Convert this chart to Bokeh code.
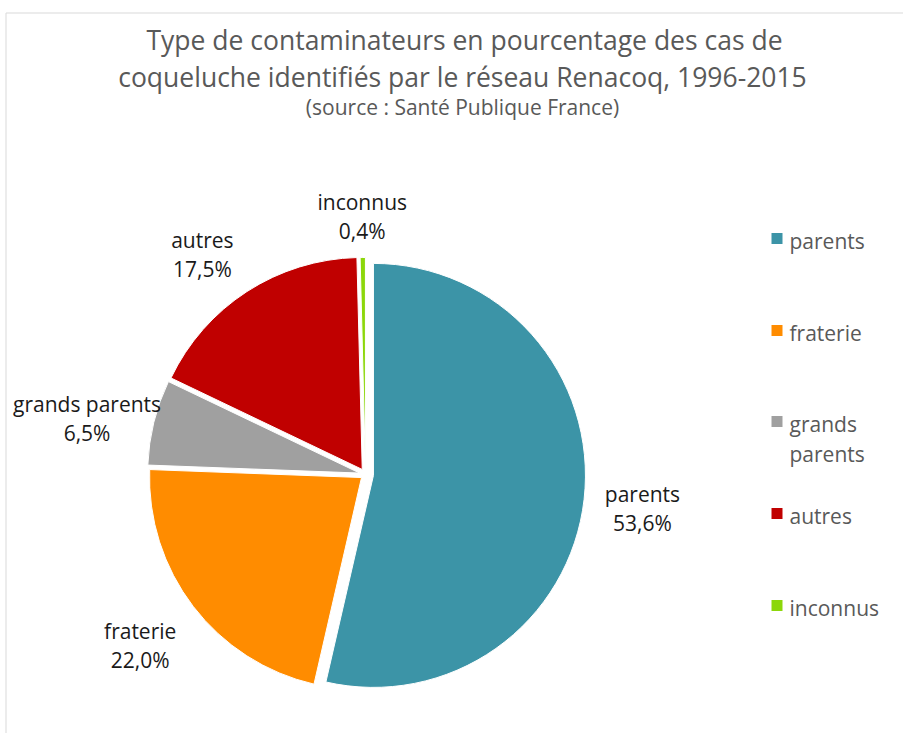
import math
from bokeh.plotting import figure
from bokeh.models import Range1d, ColumnDataSource
from bokeh.core.properties import value
from bokeh.embed import file_html
from bokeh.resources import INLINE

# ---------------- data ----------------
categories = ["parents", "fraterie", "grands parents", "autres", "inconnus"]
values = [53.6, 22.0, 6.5, 17.5, 0.4]
colors = ["#3C94A7", "#FF8C00", "#A0A0A0", "#C00000", "#8CD70A"]
legend_lines = [["parents"], ["fraterie"], ["grands", "parents"], ["autres"], ["inconnus"]]
title_lines = [
    "Type de contaminateurs en pourcentage des cas de",
    "coqueluche identifiés par le réseau Renacoq, 1996-2015",
]
subtitle = "(source : Santé Publique France)"

# ---------------- layout (picture pixels) ----------------
W, H = 903, 733
FONT = "Open Sans"


def X(px):
    return px


def Y(py):
    return H - py


CENTER = (365, 474)
RADIUS = 212
EXPLODE = [8, 5, 6, 6, 5]
LABEL_R = [279, 283, 284, 274, 258]
LABEL_DTHETA = [0.5, 0.2, -2.5, -3.6, 0.0]
LEG_SQ_X = 776.5
LEG_TXT_X = 789
LEG_Y = [238, 330, 421, 513, 605]

p = figure(width=W, height=H, x_range=Range1d(0, W), y_range=Range1d(0, H),
           output_backend="svg", toolbar_location=None, min_border=0,
           x_axis_location=None, y_axis_location=None,
           outline_line_color=None, background_fill_color="white",
           border_fill_color="white")
p.xgrid.visible = False
p.ygrid.visible = False

# chart border (light grey, left and top)
p.segment(x0=[X(5.5), X(5.5)], y0=[Y(12.5), Y(12.5)], x1=[W, X(5.5)], y1=[Y(12.5), 0],
          line_color="#D9D9D9", line_width=1)

# ---------------- pie ----------------
total = sum(values)
cx0, cy0 = X(CENTER[0]), Y(CENTER[1])
xs, ys, starts, ends = [], [], [], []
lab_x, lab_y = [], []
cum = 0.0
for i, v in enumerate(values):
    t1 = cum / total * 360.0
    t2 = (cum + v) / total * 360.0
    mid = (t1 + t2) / 2.0
    e = EXPLODE[i]
    xs.append(cx0 + e * math.sin(math.radians(mid)))
    ys.append(cy0 + e * math.cos(math.radians(mid)))
    starts.append(math.radians(90.0 - t1))
    ends.append(math.radians(90.0 - t2))
    lt = mid + LABEL_DTHETA[i]
    lab_x.append(cx0 + LABEL_R[i] * math.sin(math.radians(lt)))
    lab_y.append(cy0 + LABEL_R[i] * math.cos(math.radians(lt)))
    cum += v

src = ColumnDataSource(dict(x=xs, y=ys, start=starts, end=ends, color=colors))
p.wedge(x="x", y="y", radius=RADIUS, start_angle="start", end_angle="end",
        direction="clock", fill_color="color", line_color="white",
        line_width=1, source=src)

# data labels
pct = [f"{v:.1f}%".replace(".", ",") for v in values]
p.text(x=lab_x, y=[y + 14.5 for y in lab_y], text=categories,
       text_font=value(FONT), text_font_size="21px", text_color="#1A1A1A",
       text_align="center", text_baseline="middle")
p.text(x=lab_x, y=[y - 14.5 for y in lab_y], text=pct,
       text_font=value(FONT), text_font_size="21px", text_color="#1A1A1A",
       text_align="center", text_baseline="middle")

# ---------------- title ----------------
p.text(x=[X(464), X(462)], y=[Y(39), Y(76)], text=title_lines,
       text_font=value(FONT), text_font_size="26.5px", text_color="#595959",
       text_align="center", text_baseline="middle")
p.text(x=[X(462)], y=[Y(106)], text=[subtitle],
       text_font=value(FONT), text_font_size="21px", text_color="#595959",
       text_align="center", text_baseline="middle")

# ---------------- legend ----------------
p.rect(x=[X(LEG_SQ_X)] * len(categories), y=[Y(v) for v in LEG_Y],
       width=11, height=11, fill_color=colors, line_color=None)
lt_x, lt_y, lt_t = [], [], []
for i, lines in enumerate(legend_lines):
    for j, s in enumerate(lines):
        lt_x.append(X(LEG_TXT_X))
        lt_y.append(Y(LEG_Y[i] + 2 + 30 * j))
        lt_t.append(s)
p.text(x=lt_x, y=lt_y, text=lt_t, text_font=value(FONT), text_font_size="21px",
       text_color="#595959", text_align="left", text_baseline="middle")

open("out.html", "w").write(file_html(p, INLINE))
